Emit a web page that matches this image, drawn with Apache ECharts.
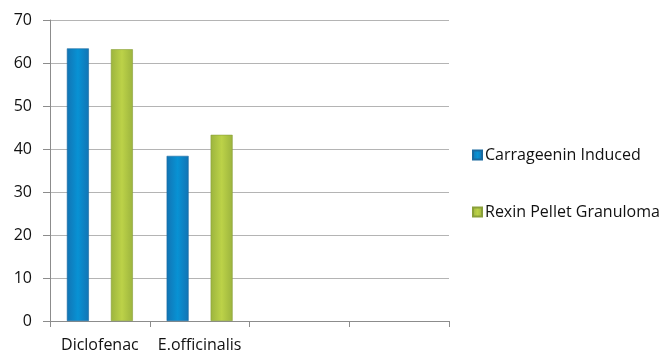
<!DOCTYPE html>
<html><head><meta charset="utf-8">
<script src="https://cdn.jsdelivr.net/npm/echarts@6/dist/echarts.min.js"></script>
<style>html,body{margin:0;padding:0;background:#fff}#c{width:668px;height:353px}</style>
</head><body><div id="c"></div>
<script>
const categories = ['Diclofenac', 'E.officinalis', '', ''];
const seriesNames = ['Carrageenin Induced', 'Rexin Pellet Granuloma'];
const carrageenin = [63.4, 38.4, null, null];
const rexin = [63.2, 43.3, null, null];
const yTicks = {min: 0, max: 70, interval: 10};

function grad(c1, c2, c3) {
  return new echarts.graphic.LinearGradient(0, 0, 1, 0, [
    {offset: 0, color: c1}, {offset: 0.5, color: c2}, {offset: 1, color: c3}
  ]);
}
const font = '"Open Sans", sans-serif';
const chart = echarts.init(document.getElementById('c'));
chart.setOption({
  animation: false,
  textStyle: {fontFamily: font},
  grid: {left: 50, right: 219, top: 20, bottom: 32, containLabel: false},
  legend: {
    orient: 'vertical', left: 467, top: 142, itemGap: 41,
    itemWidth: 9, itemHeight: 9, icon: 'rect',
    textStyle: {fontFamily: font, fontSize: 16, color: '#111', padding: [0, 0, 0, -2]},
    data: seriesNames
  },
  xAxis: {
    type: 'category', data: categories,
    axisLine: {lineStyle: {color: '#8c8c8c'}},
    axisTick: {show: true, length: 6, lineStyle: {color: '#8c8c8c'}},
    axisLabel: {fontFamily: font, fontSize: 16, color: '#111', margin: 16, interval: 0}
  },
  yAxis: {
    type: 'value', min: yTicks.min, max: yTicks.max, interval: yTicks.interval,
    axisLine: {show: true, lineStyle: {color: '#8c8c8c'}},
    axisTick: {show: true, length: 7, lineStyle: {color: '#8c8c8c'}},
    splitLine: {lineStyle: {color: '#b4b4b4'}},
    axisLabel: {fontFamily: font, fontSize: 16, color: '#111', margin: 18}
  },
  series: [
    {name: seriesNames[0], type: 'bar', data: carrageenin, barWidth: 22, barGap: '100%',
     itemStyle: {color: grad('#1274b4', '#0892d4', '#1274b4'), borderColor: '#1a6aa0', borderWidth: 0.6},
     emphasis: {disabled: true}},
    {name: seriesNames[1], type: 'bar', data: rexin, barWidth: 22,
     itemStyle: {color: grad('#9cb43e', '#bcd248', '#9cb43e'), borderColor: '#8aa03a', borderWidth: 0.6},
     emphasis: {disabled: true}}
  ]
});
</script></body></html>
